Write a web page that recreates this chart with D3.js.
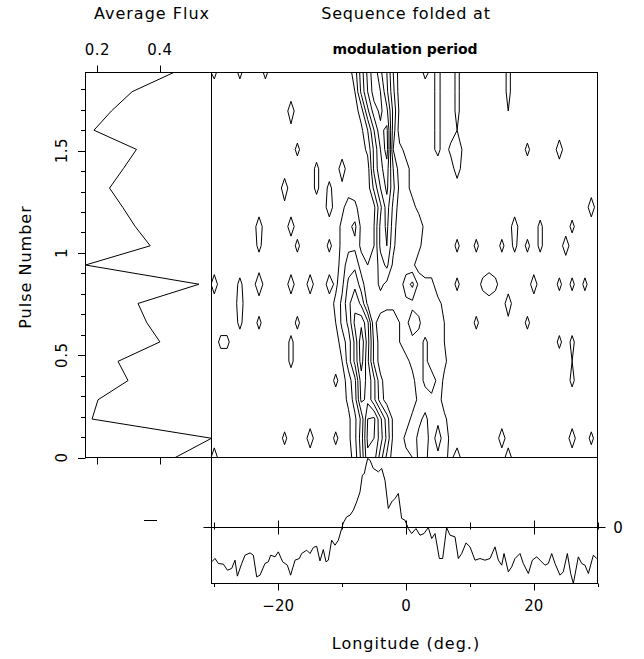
<!DOCTYPE html>
<html>
<head>
<meta charset="utf-8">
<script src="https://cdn.jsdelivr.net/npm/d3@7"></script>
<style>
  body { margin: 0; background: #fff; }
  svg { display: block; }
  text { font-family: "DejaVu Sans", sans-serif; fill: #000; }
</style>
</head>
<body>
<svg id="chart" width="644" height="659"></svg>
<script>
// ---- data -----------------------------------------------------------------
// pulse number of each folded row (bottom to top)
const pulseBins = [0, 0.094, 0.188, 0.282, 0.376, 0.470, 0.565, 0.659, 0.753, 0.847, 0.941,
                   1.035, 1.129, 1.223, 1.317, 1.412, 1.506, 1.600, 1.694, 1.788, 1.882];
// average flux per folded row (same order as pulseBins)
const averageFlux = [0.449, 0.565, 0.183, 0.202, 0.298, 0.266, 0.400, 0.358, 0.330, 0.525, 0.162,
                     0.369, 0.321, 0.281, 0.239, 0.283, 0.325, 0.189, 0.245, 0.311, 0.444];
// longitude of each grid column (deg)
const gridLongitudes = d3.range(-30, 31, 1);
// folded intensity, one string per row from the top row (pulse 1.882) down to pulse 0,
// one base-36 digit per longitude column, grouped by ten columns
const intensityRows = [
  "3000300030 0000000000 004cjpje60 0003130030 0000003000 0000000000 0",
  "0000000000 0000000000 002biomf70 0000130030 0000003000 0000000000 0",
  "0000000000 0040000000 0004dknj91 0000130030 0000002000 0000000000 0",
  "0000000000 0010000000 00016eln80 0000130020 0000000000 0000000000 0",
  "0000000000 0003000000 00003bio63 1000130351 0000000003 0000400000 0",
  "0000000000 0000003000 40000bhka4 3100000040 0000000000 0000000000 0",
  "0000000000 0400003030 100007ejb5 3100000000 0000000000 0000000000 0",
  "0000000000 0100000040 1430019g94 3310000000 0000000000 0000000004 0",
  "0000000400 0040000000 357102bf83 3341000000 0000000400 0300003000 0",
  "0000000300 0003000030 355102be73 3330000030 0300030303 0300040000 0",
  "0000000000 0000000000 4894238b54 4300000000 0000000000 0000000000 0",
  "4000300500 0040040041 5bd8347534 8b53300030 0035300000 4000303030 0",
  "0000400000 0000000003 7dhd534333 5544331000 0000004000 0000000000 0",
  "0000300300 0003000002 7bjlf30002 5873332000 0300001003 0000000000 0",
  "0330000000 0030000000 48fpg50002 4547432000 0000000000 0000303000 0",
  "0000000000 0030000000 28fof50000 1347433000 0000000000 0000002000 0",
  "0000000000 0000000003 049khb3000 0147851000 0000000000 0000003000 0",
  "0000000000 0000000000 038jhb4000 0034540000 0000000000 0000000000 0",
  "0000000000 0000000000 015bmnf810 0357453000 0000000000 0000000000 0",
  "0000000000 0300040003 015cnmg910 3478484100 0000040000 0000004003 0",
  "4000000000 0000000000 004blkc500 1277453140 0000004000 0000000000 0"
];
const contourLevels = [2, 6, 10, 14, 18, 22];

// integrated pulse profile
const profileLongitude = [-30.4, -29.89, -29.37, -28.58, -27.95, -27.28, -26.76, -26.39, -25.71, -25.19,
  -24.41, -23.89, -23.37, -22.85, -22.07, -21.55, -21.18, -20.50, -19.98, -19.30, -18.57, -18.05,
  -17.37, -16.69, -16.33, -15.54, -15.02, -14.50, -13.98, -13.46, -12.94, -12.52, -12.16, -11.63,
  -11.11, -10.59, -10.07, -9.81, -9.29, -8.76, -8.24, -7.72, -7.20, -6.83, -6.52, -6.31, -6.00,
  -5.63, -5.11, -4.69, -4.33, -3.80, -3.29, -2.77, -2.24, -1.72, -1.20, -0.68, -0.16, 0.36, 0.89,
  1.56, 2.19, 2.82, 3.49, 4.02, 4.54, 5.22, 5.74, 6.36, 6.89, 7.67, 8.19, 8.72, 9.39, 10.02, 10.80,
  11.58, 12.36, 13.15, 13.93, 14.45, 14.98, 15.34, 16.02, 16.54, 17.06, 17.84, 18.36, 19.15, 19.77,
  20.45, 21.08, 21.75, 22.27, 22.80, 23.32, 24.10, 24.62, 25.25, 25.77, 26.19, 26.97, 27.50, 28.01,
  28.54, 29.32, 29.85];
const profileAmplitude = [-0.504, -0.455, -0.528, -0.537, -0.624, -0.600, -0.480, -0.710, -0.528, -0.408,
  -0.375, -0.408, -0.720, -0.696, -0.528, -0.504, -0.408, -0.432, -0.360, -0.504, -0.552, -0.696,
  -0.480, -0.456, -0.384, -0.336, -0.384, -0.297, -0.278, -0.490, -0.326, -0.504, -0.480, -0.192,
  -0.264, -0.192, -0.024, 0.058, 0.144, 0.169, 0.241, 0.360, 0.504, 0.745, 0.769, 0.865, 0.985,
  0.961, 0.841, 0.817, 0.793, 0.841, 0.673, 0.265, 0.360, 0.409, 0.481, 0.121, 0.097, -0.024, -0.096,
  -0.024, -0.120, -0.096, -0.009, -0.168, -0.096, -0.456, -0.456, -0.009, -0.120, -0.144, -0.456,
  -0.384, -0.231, -0.288, -0.480, -0.456, -0.480, -0.456, -0.288, -0.480, -0.552, -0.384, -0.648,
  -0.576, -0.456, -0.384, -0.528, -0.672, -0.480, -0.432, -0.490, -0.552, -0.528, -0.384, -0.528,
  -0.696, -0.648, -0.384, -0.672, -0.816, -0.432, -0.528, -0.552, -0.672, -0.408, -0.456];

const pulseTicks = [0, 0.5, 1, 1.5];
const pulseMinorTicks = d3.range(0, 19).map(i => i / 10);
const fluxTicks = [0.2, 0.4];
const longitudeTicks = [-30, -20, -10, 0, 10, 20, 30];
const longitudeLabels = [-20, 0, 20];

// ---- layout ----------------------------------------------------------------
const frame = { fluxLeft: 85.5, left: 211.5, right: 597.5, top: 72.5, mid: 457.5, bottom: 583.5 };

const xLon = d3.scaleLinear().domain([-30, 30]).range([214.3, 597.7]);
const yPulse = d3.scaleLinear().domain([0, 1.882]).range([frame.mid, frame.top]);
const xFlux = d3.scaleLinear().domain([0.162, 0.565]).range([frame.fluxLeft, frame.left]);
const yAmp = d3.scaleLinear().domain([-0.816, 1]).range([frame.bottom, frame.mid]);

const svg = d3.select("#chart");
const ink = g => g.attr("stroke", "#000").attr("stroke-width", 1).attr("fill", "none");

const defs = svg.append("defs");
defs.append("clipPath").attr("id", "mapClip").append("rect")
  .attr("x", frame.left).attr("y", frame.top)
  .attr("width", frame.right - frame.left).attr("height", frame.mid - frame.top);

// ---- contour map -------------------------------------------------------------
const nx = gridLongitudes.length, ny = intensityRows.length;
const grid = [];
intensityRows.forEach(row => {
  const cells = row.replace(/ /g, "");
  for (const ch of cells) grid.push(parseInt(ch, 36));
});

const contours = d3.contours().size([nx, ny]).smooth(true).thresholds(contourLevels)(grid);

// grid cell centres sit at (i + 0.5, j + 0.5); first grid row is the top pulse bin
const gx = d3.scaleLinear().domain([0.5, nx - 0.5])
  .range([xLon(gridLongitudes[0]), xLon(gridLongitudes[nx - 1])]);
const gy = d3.scaleLinear().domain([0.5, ny - 0.5])
  .range([yPulse(pulseBins[pulseBins.length - 1]), yPulse(pulseBins[0])]);
const gridPath = d3.geoPath(d3.geoTransform({
  point(x, y) { this.stream.point(gx(x), gy(y)); }
}));

svg.append("g").attr("clip-path", "url(#mapClip)")
  .selectAll("path").data(contours).join("path")
  .attr("d", gridPath)
  .call(ink)
  .attr("stroke-linejoin", "round");

// ---- average flux panel ------------------------------------------------------
svg.append("path")
  .datum(pulseBins.map((p, i) => [averageFlux[i], p]))
  .attr("d", d3.line().x(d => xFlux(d[0])).y(d => yPulse(d[1])))
  .call(ink);

// ---- integrated profile ------------------------------------------------------
svg.append("path")
  .datum(profileLongitude.map((l, i) => [l, profileAmplitude[i]]))
  .attr("d", d3.line().x(d => xLon(d[0])).y(d => yAmp(d[1])))
  .call(ink);

// ---- frames -------------------------------------------------------------------
const frames = svg.append("g").call(ink);
frames.append("rect").attr("x", frame.fluxLeft).attr("y", frame.top)
  .attr("width", frame.left - frame.fluxLeft).attr("height", frame.mid - frame.top);
frames.append("rect").attr("x", frame.left).attr("y", frame.top)
  .attr("width", frame.right - frame.left).attr("height", frame.bottom - frame.top);
frames.append("line").attr("x1", frame.left).attr("x2", frame.right)
  .attr("y1", frame.mid).attr("y2", frame.mid);

// zero line of the profile
const yZero = Math.round(yAmp(0)) + 0.5;
frames.append("line").attr("x1", 203.5).attr("x2", 605.5).attr("y1", yZero).attr("y2", yZero);
longitudeTicks.forEach(l => {
  const x = Math.round(xLon(l)) + 0.5;
  const major = longitudeLabels.includes(l);
  frames.append("line").attr("x1", x).attr("x2", x)
    .attr("y1", yZero - (major ? 7 : 5)).attr("y2", yZero + (major ? 7 : 2));
  frames.append("line").attr("x1", x).attr("x2", x)
    .attr("y1", frame.bottom).attr("y2", frame.bottom + (major ? 7 : 3.5));
});
frames.append("line").attr("x1", frame.left).attr("x2", frame.left)
  .attr("y1", frame.mid).attr("y2", frame.bottom);
frames.append("line").attr("x1", 144).attr("x2", 157).attr("y1", 520.5).attr("y2", 520.5);

// pulse number ticks on the flux panel
pulseMinorTicks.forEach(p => {
  const y = Math.round(yPulse(p)) + 0.5;
  const major = pulseTicks.some(t => Math.abs(t - p) < 1e-6);
  frames.append("line").attr("x1", frame.fluxLeft - (major ? 7.5 : 4.5)).attr("x2", frame.fluxLeft)
    .attr("y1", y).attr("y2", y);
});
// flux ticks, top and bottom
fluxTicks.forEach(f => {
  const x = Math.round(xFlux(f)) + 0.5;
  frames.append("line").attr("x1", x).attr("x2", x).attr("y1", frame.top - 7).attr("y2", frame.top);
  frames.append("line").attr("x1", x).attr("x2", x).attr("y1", frame.mid).attr("y2", frame.mid + 7);
});

// ---- text ---------------------------------------------------------------------
const label = (x, y, s, size, opts = {}) => {
  const t = svg.append("text").attr("x", x).attr("y", y).text(s)
    .attr("font-size", size).attr("text-anchor", "middle").attr("dominant-baseline", "central");
  if (opts.spacing) t.attr("letter-spacing", opts.spacing);
  if (opts.rotate) t.attr("transform", `rotate(-90 ${x} ${y})`);
  if (opts.bold) t.attr("font-family", "'Liberation Sans', sans-serif").attr("font-weight", "bold");
  return t;
};
label(152, 13, "Average Flux", 16, { spacing: 1 });
label(406, 13, "Sequence folded at", 16, { spacing: 0.8 });
label(405, 49, "modulation period", 14, { bold: true });
fluxTicks.forEach(f => label(xFlux(f), 50, String(f), 15, { spacing: 0.5 }));
pulseTicks.forEach(p => label(62, yPulse(p), String(p), 15, { rotate: true, spacing: 0.5 }));
label(25, 267, "Pulse Number", 16, { rotate: true, spacing: 1 });
longitudeLabels.forEach(l => label(xLon(l), 606, l < 0 ? "\u2212" + Math.abs(l) : String(l), 15));
label(406, 643, "Longitude (deg.)", 16, { spacing: 1 });
label(618, yZero, "0", 15);
</script>
</body>
</html>
